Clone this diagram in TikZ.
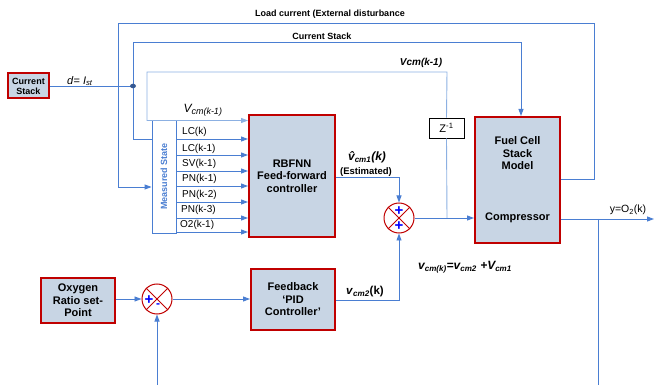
\documentclass[tikz,border=0pt]{standalone}
\usepackage{fontspec}
\setmainfont{Liberation Sans}
\usetikzlibrary{arrows.meta}
\definecolor{wire}{RGB}{74,126,210}
\definecolor{wirelt}{RGB}{140,176,226}
\definecolor{boxred}{RGB}{192,0,0}
\definecolor{boxfill}{RGB}{200,213,228}
\tikzset{
  blk/.style={draw=boxred, line width=2pt, fill=boxfill, align=center, font=\fontsize{11}{12.5}\selectfont\bfseries, inner sep=0pt},
  sumnode/.style={circle, draw=boxred, line width=1pt, minimum size=30pt, inner sep=0pt},
  wln/.style={draw=wire, line width=0.9pt},
  arr/.style={wln, -{Triangle[length=7pt,width=5pt]}},
  arrlt/.style={draw=wirelt, line width=0.9pt, -{Triangle[length=7pt,width=5pt]}},
  lbl/.style={font=\fontsize{10}{11}\selectfont, inner sep=0pt},
  toplbl/.style={font=\fontsize{9}{10}\selectfont\bfseries, inner sep=0pt},
}
\begin{document}
\begin{tikzpicture}[x=1pt,y=-1pt]
\useasboundingbox (0,0) rectangle (654,385);

% blocks
\node[blk, font=\fontsize{9}{10}\selectfont\bfseries, minimum width=41pt, minimum height=25pt] (cs) at (28.5,86) {Current\\Stack};
\node[draw=wire, line width=0.9pt, fill=white, minimum width=24pt, minimum height=113pt, inner sep=0pt] (ms) at (164,176.5) {};
\node[rotate=90, text=wire, font=\fontsize{9}{10}\selectfont\bfseries] (mstxt) at (ms.center) {Measured State};
\node[blk, minimum width=86pt, minimum height=122pt] (rbf) at (292,176) {RBFNN\\Feed-forward\\controller};
\node[draw=black, line width=0.8pt, fill=white, minimum width=35pt, minimum height=20pt, inner sep=0pt, font=\fontsize{11}{12}\selectfont] (z) at (446.5,128) {Z\textsuperscript{-1}};
\node[blk, minimum width=85pt, minimum height=126pt] (fc) at (517.5,180) {};
\node[font=\fontsize{11}{12.5}\selectfont\bfseries, align=center] (fctxt) at (517.5,153.5) {Fuel Cell\\Stack\\Model};
\node[font=\fontsize{11}{12.5}\selectfont\bfseries] (fccomp) at (517.5,218) {Compressor};
\node[blk, minimum width=74pt, minimum height=45pt] (ox) at (78,300.5) {Oxygen\\Ratio set-\\Point};
\node[blk, minimum width=84pt, minimum height=61pt] (pid) at (293,299.5) {Feedback\\‘PID\\Controller’};

% summing junctions
\node[sumnode] (s1) at (399,218) {};
\draw[boxred, line width=1pt] (s1.north west) -- (s1.south east) (s1.north east) -- (s1.south west);
\node[text=blue, font=\fontsize{15}{15}\selectfont\bfseries, inner sep=0pt] (s1p) at (399,211) {+};
\node[text=blue, font=\fontsize{15}{15}\selectfont\bfseries, inner sep=0pt] (s1q) at (399,226) {+};
\node[sumnode] (s2) at (157,299) {};
\draw[boxred, line width=1pt] (s2.north west) -- (s2.south east) (s2.north east) -- (s2.south west);
\node[text=blue, font=\fontsize{15}{15}\selectfont\bfseries, inner sep=0pt] (s2p) at (149,300) {+};
\node[text=blue, font=\fontsize{12}{12}\selectfont\bfseries, inner sep=0pt] (s2m) at (158,306) {-};

% branch points
\coordinate (dot) at (133,86);
\coordinate (j1) at (447,218);
\coordinate (j2) at (598,219);
\coordinate (yout) at (654,219);
\coordinate (fbot) at (598,385);
\coordinate (sbot) at (157,385);

% load current (external disturbance) loop
\coordinate (l1) at (594,179);
\coordinate (l2) at (594,23);
\coordinate (l3) at (118,23);
\coordinate (l4) at (118,187);
\draw[arr] (fc.east |- l1) -- (l1) -- (l2) -- (l3) -- (l4) -- (ms.west |- l4);

% current stack signal
\coordinate (c1) at (133,42);
\coordinate (c2) at (521,42);
\coordinate (c3) at (133,139);
\draw[wln] (cs.east |- dot) -- (dot);
\draw[arr] (dot) -- (c1) -- (c2) -- (c2 |- fc.north);
\draw[wln] (dot) -- (c3) -- (ms.west |- c3);
\fill[wire!70!black] (dot) ellipse (3pt and 2.3pt);

% delayed compressor voltage fed back
\coordinate (v1) at (447,72);
\coordinate (v2) at (147,72);
\coordinate (v3) at (147,120.5);
\draw[wirelt, line width=0.9pt] (j1) -- (z.south);
\draw[arrlt] (z.north) -- (v1) -- (v2) -- (v3) -- (rbf.west |- v3);

% measured states into the network
\foreach \yy/\nm in {139/a,155/b,171/c,186/d,202/e,218/f,232/g}{
  \coordinate (row\nm) at (176,\yy);
  \draw[arr] (row\nm) -- (rbf.west |- row\nm);
}

% feed-forward path
\coordinate (e1) at (399,177);
\draw[arr] (rbf.east |- e1) -- (e1) -- (s1.north);
\draw[arr] (s1.east) -- (fc.west |- s1);

% plant output
\draw[arr] (fc.east |- j2) -- (yout);
\draw[wln] (j2) -- (fbot);

% feedback path
\coordinate (p1) at (399,300);
\draw[arr] (ox.east |- s2) -- (s2.west);
\draw[arr] (s2.east) -- (pid.west |- s2);
\draw[arr] (sbot) -- (s2.south);
\draw[arr] (pid.east |- p1) -- (p1) -- (s1.south);

% labels
\node[toplbl] (tl1) at (330,14) {Load current (External disturbance};
\node[toplbl] (tl2) at (322,36) {Current Stack};
\node[font=\fontsize{10}{11}\selectfont\bfseries\itshape, inner sep=0pt] (tl3) at (421,63) {Vcm(k-1)};
\node[font=\fontsize{11}{12}\selectfont, inner sep=0pt] (dlbl) at (80,81) {\textit{d}= \textit{I}\textsubscript{\textit{st}}};
\node[font=\fontsize{12}{12}\selectfont\itshape, inner sep=0pt] (vlbl) at (203,110) {V\textsubscript{\fontsize{9}{9}\selectfont cm(k-1)}};
\foreach \yy/\txt/\xx in {132/LC(k)/182,148.5/LC(k-1)/182,164/SV(k-1)/182,179/PN(k-1)/182,195/PN(k-2)/182,210/PN(k-3)/181,225/O2(k-1)/180}{
  \node[lbl, anchor=west] at (\xx,\yy) {\txt};
}
\node[font=\fontsize{12}{12}\selectfont\bfseries\itshape, inner sep=0pt] (hlbl) at (367,157) {\^{v}\textsubscript{cm1}(k)};
\node[font=\fontsize{9.5}{10}\selectfont\bfseries, inner sep=0pt] (est) at (366,172) {(Estimated)};
\node[font=\fontsize{10.5}{11}\selectfont, inner sep=0pt] (ylbl) at (628,210) {y=O\textsubscript{2}(k)};
\node[font=\fontsize{12}{13}\selectfont\bfseries\itshape, inner sep=0pt] (eq) at (465,267) {v\textsubscript{cm(k)}=v\textsubscript{cm2} +V\textsubscript{cm1}};
\node[font=\fontsize{11.5}{12}\selectfont\bfseries, inner sep=0pt] (v2lbl) at (365,292) {\textit{v}\textsubscript{\textit{cm2}}(k)};
\end{tikzpicture}
\end{document}
